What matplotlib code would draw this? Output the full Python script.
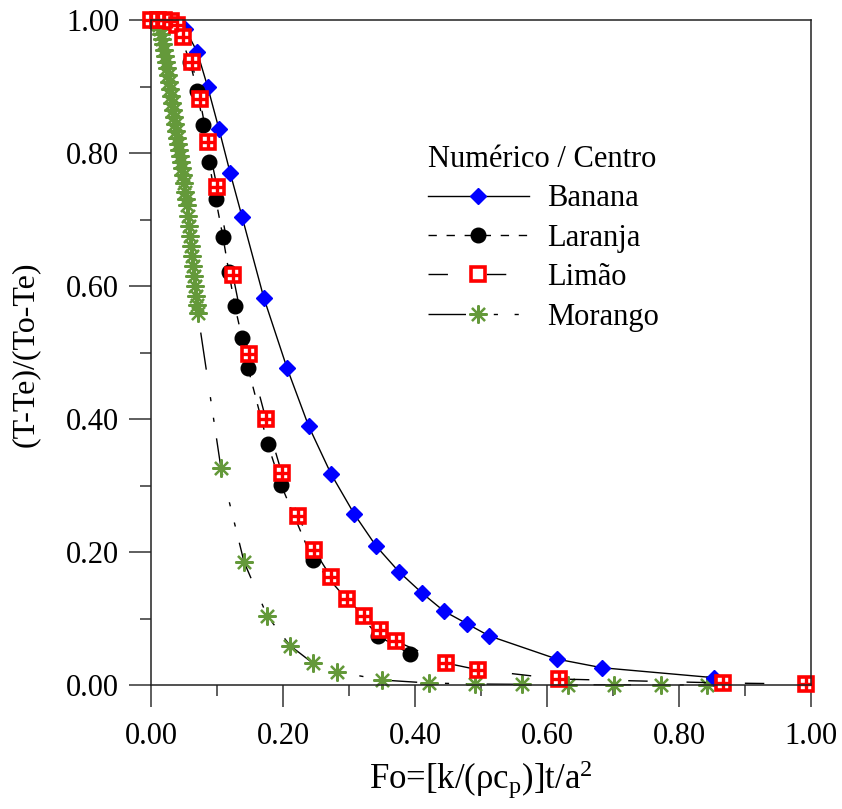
import numpy as np
import matplotlib
matplotlib.use("Agg")
import matplotlib.pyplot as plt
from matplotlib.ticker import MultipleLocator, FormatStrFormatter

# Fourier number vs dimensionless temperature at the centre
banana_x = [0.0, 0.017, 0.035, 0.052, 0.070, 0.086, 0.103, 0.120, 0.138, 0.171, 0.206,
            0.239, 0.273, 0.308, 0.341, 0.376, 0.411, 0.444, 0.479, 0.512, 0.615, 0.683, 0.853]
banana_y = [1.0, 1.0, 0.998, 0.986, 0.952, 0.899, 0.836, 0.770, 0.704, 0.582, 0.477,
            0.389, 0.317, 0.257, 0.209, 0.170, 0.138, 0.111, 0.092, 0.074, 0.039, 0.026, 0.011]

laranja_x = [0.0, 0.010, 0.020, 0.030, 0.039, 0.059, 0.070, 0.079, 0.088, 0.098, 0.109,
             0.118, 0.127, 0.138, 0.147, 0.177, 0.197, 0.245, 0.344, 0.392]
laranja_y = [1.0, 1.0, 1.0, 0.999, 0.992, 0.937, 0.893, 0.842, 0.786, 0.731, 0.674,
             0.621, 0.570, 0.522, 0.477, 0.362, 0.301, 0.188, 0.074, 0.047]

limao_x = [0.0, 0.010, 0.020, 0.030, 0.039, 0.048, 0.062, 0.074, 0.086, 0.100, 0.124,
           0.148, 0.174, 0.198, 0.223, 0.247, 0.273, 0.297, 0.323, 0.347, 0.371,
           0.447, 0.495, 0.618, 0.867, 0.992]
limao_y = [1.0, 1.0, 1.0, 0.998, 0.992, 0.974, 0.937, 0.881, 0.817, 0.749, 0.617,
           0.498, 0.400, 0.319, 0.254, 0.203, 0.162, 0.129, 0.104, 0.083, 0.066,
           0.033, 0.023, 0.009, 0.003, 0.0015]

morango_x = [0.0, 0.003, 0.006, 0.009, 0.012, 0.014, 0.015, 0.017, 0.018, 0.020, 0.021,
             0.023, 0.024, 0.026, 0.027, 0.029, 0.030, 0.032, 0.033, 0.035, 0.036,
             0.038, 0.039, 0.041, 0.042, 0.044, 0.045, 0.047, 0.048, 0.050, 0.052,
             0.053, 0.055, 0.056, 0.058, 0.059, 0.061, 0.062, 0.064, 0.065, 0.067,
             0.068, 0.070, 0.071,
             0.106, 0.141, 0.176, 0.211, 0.245, 0.282, 0.350, 0.421, 0.491, 0.562,
             0.632, 0.702, 0.773, 0.842]
morango_y = [1.0, 1.0, 0.998, 0.997, 0.992, 0.986, 0.979, 0.971, 0.964, 0.955, 0.946,
             0.937, 0.928, 0.917, 0.907, 0.896, 0.886, 0.875, 0.865, 0.854, 0.844,
             0.833, 0.823, 0.814, 0.805, 0.795, 0.786, 0.777, 0.767, 0.755, 0.741,
             0.731, 0.722, 0.705, 0.690, 0.675, 0.660, 0.645, 0.630, 0.615, 0.600,
             0.585, 0.571, 0.559,
             0.326, 0.185, 0.104, 0.059, 0.033, 0.020, 0.0075, 0.003, 0.0015, 0.001,
             0.0005, 0.0003, 0.0002, 0.0001]

legend_title = "Numérico / Centro"
names = ["Banana", "Laranja", "Limão", "Morango"]

plt.rcParams['font.family'] = ['Liberation Serif', 'DejaVu Serif']
plt.rcParams['mathtext.fontset'] = 'custom'
plt.rcParams['mathtext.rm'] = 'Liberation Serif'
plt.rcParams['mathtext.it'] = 'Liberation Serif:italic'

fig = plt.figure(figsize=(8.42, 8.09), dpi=100)
ax = fig.add_axes([151 / 842, 1 - 685 / 809, 660 / 842, 665 / 809])

green = '#64993a'

# green first so the others sit on top, as in the original
l_mor, = ax.plot(morango_x, morango_y, color='k', lw=1.0, dashes=(27, 20, 3, 12, 3, 12),
                 marker=(8, 2, 0), ms=13, mec=green, mfc=green, mew=1.6, clip_on=False)
l_ban, = ax.plot(banana_x, banana_y, color='k', lw=1.0, marker='D', ms=8.5,
                 mfc='#0000ff', mec='#0000ff', clip_on=False)
l_lar, = ax.plot(laranja_x, laranja_y, color='k', lw=1.0, dashes=(6, 7), marker='o',
                 ms=10.5, mfc='k', mec='k', clip_on=False)
l_lim, = ax.plot(limao_x, limao_y, color='k', lw=1.0, dashes=(14, 28), marker='s',
                 ms=10, mfc='white', mec='#ff0000', mew=2.6, clip_on=False)
# red cross inside the squares
ax.plot(limao_x, limao_y, ls='none', marker='+', ms=10, mec='#ff0000', mew=2.4,
        clip_on=False)

ax.set_xlim(0, 1)
ax.set_ylim(0, 1)
ax.xaxis.set_major_locator(MultipleLocator(0.2))
ax.xaxis.set_minor_locator(MultipleLocator(0.1))
ax.yaxis.set_major_locator(MultipleLocator(0.2))
ax.yaxis.set_minor_locator(MultipleLocator(0.1))
ax.xaxis.set_major_formatter(FormatStrFormatter('%.2f'))
ax.yaxis.set_major_formatter(FormatStrFormatter('%.2f'))

ax.tick_params(which='major', direction='out', length=16, width=1.1, color='#333333',
               labelsize=22)
ax.tick_params(which='minor', direction='out', length=8, width=1.1, color='#333333')
ax.tick_params(axis='x', which='major', pad=11)
ax.tick_params(axis='y', which='major', pad=7)
for s in ax.spines.values():
    s.set_linewidth(1.1)
    s.set_color('#222222')

fig.text(25 / 842, 1 - 354 / 809, "(T-Te)/(To-Te)", rotation=90, ha='center',
         va='center', fontsize=23)
fig.text(481 / 842, 1 - 780 / 809, "Fo=[k/(ρc$_\\mathrm{p}$)]t/a$^\\mathrm{2}$",
         ha='center', va='center', fontsize=25)

leg = ax.legend([l_ban, l_lar, l_lim, l_mor], names, title=legend_title,
                loc='upper left', bbox_to_anchor=(428 / 842, 1 - 145 / 809),
                bbox_transform=fig.transFigure, frameon=False, fontsize=22,
                title_fontsize=22, handlelength=3.3, handletextpad=0.6,
                labelspacing=0.34, borderpad=0, borderaxespad=0, numpoints=1,
                alignment='left')

fig.savefig('out.png', dpi=100)
